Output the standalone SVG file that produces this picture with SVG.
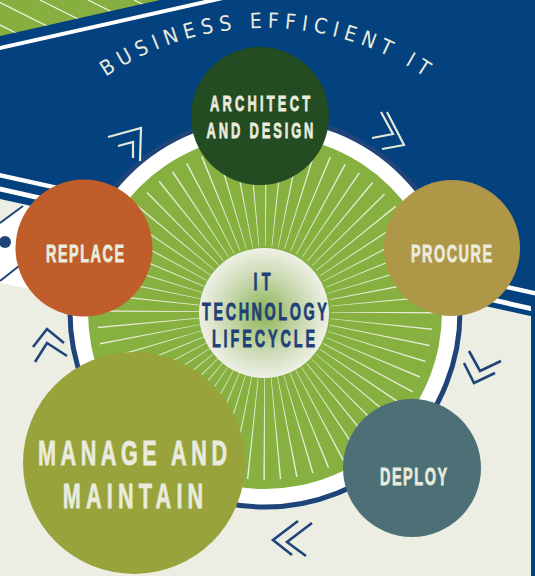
<svg xmlns="http://www.w3.org/2000/svg" width="535" height="576" viewBox="0 0 535 576">
<defs>
<style>
.lbl{font-family:"Liberation Sans",Arial,sans-serif;font-weight:700;fill:#E9EBDD;stroke:#E9EBDD;stroke-width:0.8;text-anchor:middle}
.ctr{font-family:"Liberation Sans",Arial,sans-serif;font-weight:700;fill:#1F4176;stroke:#1F4176;stroke-width:0.8;text-anchor:middle}
.arc{font-family:"Liberation Sans Narrow","DejaVu Sans Condensed","Liberation Sans",Arial,sans-serif;font-weight:400;fill:#E9EBDD;font-size:21px}
.chevB{fill:none;stroke:#E6E9DA;stroke-width:2.2}
.chevN{fill:none;stroke:#1E4479;stroke-width:2.6}
.wht{fill:#FFFFFF}
.hatch{stroke:#FFFFFF;stroke-width:1.2;opacity:0.85}
</style>
<radialGradient id="cg" cx="50%" cy="50%" r="50%">
<stop offset="0" stop-color="#8CB454"/>
<stop offset="0.55" stop-color="#C6D7AC"/>
<stop offset="1" stop-color="#EEF0E6"/>
</radialGradient>
<clipPath id="gc"><polygon points="0,0 160,0 0,36"/></clipPath>
<path id="arcpath" d="M82.4,94.4 A284,284 0 0 1 447.6,94.4"/>
</defs>

<g id="background">
<rect width="535" height="576" fill="#ECEEE3"/>
<polygon points="0,0 535,0 535,317 0,199" fill="#03417F"/>
<polygon class="wht" points="0,173 535,291 535,295.5 0,177.5"/>
<polygon class="wht" points="0,186.5 535,307 535,312 0,191.5"/>
<rect x="531" y="300" width="4" height="276" fill="#03417F"/>
<polygon points="0,0 160,0 0,36" fill="#87B141"/>
<g clip-path="url(#gc)">
<line class="hatch" x1="-5" y1="0" x2="75" y2="40"/>
<line class="hatch" x1="40" y1="0" x2="120" y2="40"/>
<line class="hatch" x1="88" y1="0" x2="168" y2="40"/>
<line class="hatch" x1="134" y1="0" x2="214" y2="40"/>
<line class="hatch" x1="-50" y1="0" x2="30" y2="40"/>
</g>
<polygon class="wht" points="0,46 205,0 223,0 0,50"/>
<polygon class="wht" points="0,224 23,206 45,206 45,292 0,283"/>
<line x1="23" y1="206" x2="0" y2="223" stroke="#1E4479" stroke-width="2"/>
<line x1="19" y1="266" x2="0" y2="281" stroke="#1E4479" stroke-width="2"/>
<circle cx="5" cy="242" r="6" fill="#1E4479"/>
</g>

<g id="title">
<text class="arc"><textPath href="#arcpath" startOffset="50%" text-anchor="middle" textLength="338" lengthAdjust="spacing">BUSINESS EFFICIENT IT</textPath></text>
</g>

<g id="wheel">
<circle cx="265" cy="312" r="195" fill="#FFFFFF" stroke="#1E4479" stroke-width="5"/>
<circle cx="265" cy="312" r="177" fill="#86B03F"/>
<circle cx="265" cy="312" r="117" fill="none" stroke="#E4EBD3" stroke-width="102" stroke-dasharray="1.1 10.386"/>
</g>

<g id="connectors">
<polyline class="chevB" points="108,137 141,128 140,161"/>
<polyline class="chevB" points="118,146 133,142 133,158"/>
<polyline class="chevB" points="387,112 404,145 382,149"/>
<polyline class="chevB" points="372,138 393,134 381,112"/>
<polyline class="chevN" points="469,351 480,371 501,361"/>
<polyline class="chevN" points="464,363 474,383 495,373"/>
<polyline class="chevN" points="298,521 273,540 292,555"/>
<polyline class="chevN" points="312,523 287,542 306,556"/>
<polyline class="chevN" points="33,347 47,329 64,343"/>
<polyline class="chevN" points="35,362 47,343 67,356"/>
</g>

<g id="center">
<circle cx="264" cy="313" r="65" fill="url(#cg)"/>
<text class="ctr" transform="translate(262,290) scale(0.6,1)" font-size="24" textLength="28.3" lengthAdjust="spacing">IT</text>
<text class="ctr" transform="translate(264.5,320) scale(0.6,1)" font-size="24" textLength="208" lengthAdjust="spacing">TECHNOLOGY</text>
<text class="ctr" transform="translate(263.5,347) scale(0.6,1)" font-size="24" textLength="172" lengthAdjust="spacing">LIFECYCLE</text>
</g>

<g id="architect">
<circle cx="260" cy="116" r="69" fill="#244C22"/>
<text class="lbl" transform="translate(260,111) scale(0.6,1)" font-size="21.5" textLength="167" lengthAdjust="spacing">ARCHITECT</text>
<text class="lbl" transform="translate(260,138) scale(0.6,1)" font-size="21.5" textLength="178" lengthAdjust="spacing">AND DESIGN</text>
</g>

<g id="procure">
<circle cx="452" cy="248" r="68" fill="#AF9748"/>
<text class="lbl" transform="translate(451.5,262) scale(0.6,1)" font-size="24" textLength="135" lengthAdjust="spacing">PROCURE</text>
</g>

<g id="replace">
<circle cx="84" cy="248" r="68.5" fill="#BF5E2A"/>
<text class="lbl" transform="translate(85,262) scale(0.6,1)" font-size="24" textLength="130" lengthAdjust="spacing">REPLACE</text>
</g>

<g id="deploy">
<circle cx="412" cy="468" r="69" fill="#4C7076"/>
<text class="lbl" transform="translate(413.5,485) scale(0.6,1)" font-size="24" textLength="112" lengthAdjust="spacing">DEPLOY</text>
</g>

<g id="manage">
<circle cx="134" cy="463" r="111" fill="#99A33C"/>
<text class="lbl" transform="translate(132.5,465) scale(0.6,1)" font-size="36" textLength="315" lengthAdjust="spacing">MANAGE AND</text>
<text class="lbl" transform="translate(133,508) scale(0.6,1)" font-size="36" textLength="234" lengthAdjust="spacing">MAINTAIN</text>
</g>
</svg>
